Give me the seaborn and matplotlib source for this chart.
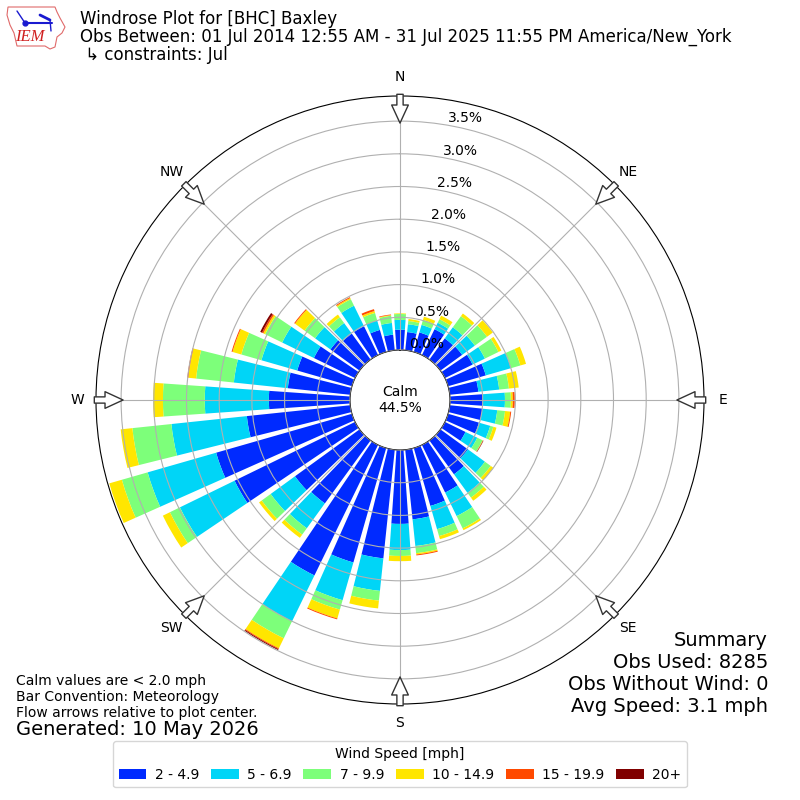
import matplotlib
matplotlib.use('Agg')
import matplotlib.pyplot as plt
import numpy as np
import pandas as pd
import seaborn as sns
from matplotlib.patches import Polygon

directions = [0, 10, 20, 30, 40, 50, 60, 70, 80, 90, 100, 110,
              120, 130, 140, 150, 160, 170, 180, 190, 200, 210, 220, 230,
              240, 250, 260, 270, 280, 290, 300, 310, 320, 330, 340, 350]

speed_2_5 = [.31, .28, .31, .44, .40, .41, .47, .60, .44, .50, .50, .49,
             .35, .52, .64, .81, .92, 1.07, 1.13, 1.67, 1.82, 2.22, 1.19, 1.22,
             2.05, 2.16, 1.59, 1.24, .96, .87, .70, .55, .49, .49, .35, .24]
speed_5_7 = [.15, .12, .12, .11, .21, .24, .21, .40, .32, .34, .23, .18,
             .20, .32, .35, .40, .37, .41, .40, .50, .60, .78, .47, .46,
             .93, 1.09, 1.16, .98, .83, .57, .54, .29, .20, .35, .15, .18]
speed_7_10 = [.09, .05, .08, .06, .21, .23, .23, .15, .15, .09, .12, .05,
              .09, .11, .09, .21, .11, .11, .09, .15, .15, .29, .12, .17,
              .17, .41, .60, .64, .58, .32, .29, .20, .11, .11, .12, .11]
speed_10_15 = [.01, .03, .05, .06, .05, .11, .05, .09, .15, .03, .08, .05,
               .005, .05, .06, .03, .05, .02, .08, .12, .14, .17, .06, .05,
               .12, .20, .18, .15, .12, .14, .03, .18, .05, .02, .03, .01]
speed_15_20 = [0, 0, 0, 0, 0, 0, 0, 0, 0, .03, .015, 0,
               .005, 0, 0, 0, 0, .015, 0, 0, .015, .015, 0, 0,
               0, 0, 0, 0, .015, .015, .023, .015, 0, .015, .03, .01]
speed_20_up = [0, 0, 0, 0, 0, 0, 0, 0, 0, 0, 0, 0,
               .006, 0, 0, 0, 0, 0, 0, 0, 0, .015, 0, 0,
               0, 0, 0, 0, 0, 0, .03, 0, 0, 0, 0, 0]

bins = [speed_2_5, speed_5_7, speed_7_10, speed_10_15, speed_15_20, speed_20_up]
bin_labels = ['2 - 4.9', '5 - 6.9', '7 - 9.9', '10 - 14.9', '15 - 19.9', '20+']
bin_colors = ['#002aff', '#00d5f7', '#7dff7a', '#ffe600', '#ff4a00', '#800000']

rings = [0, 0.5, 1.0, 1.5, 2.0, 2.5, 3.0, 3.5]
compass_angles = [0, 45, 90, 135, 180, 225, 270, 315]
compass_labels = ['N', 'NE', 'E', 'SE', 'S', 'SW', 'W', 'NW']

sns.set_style('white', {'axes.grid': True, 'grid.color': '#b0b0b0', 'axes.edgecolor': 'black',
                        'text.color': 'black', 'xtick.color': 'black', 'ytick.color': 'black',
                        'axes.labelcolor': 'black', 'font.family': ['DejaVu Sans']})

fig = plt.figure(figsize=(8, 8), dpi=100)
ax = fig.add_axes([0.12, 0.12, 0.76, 0.76], projection='polar')
ax.set_theta_zero_location('N')
ax.set_theta_direction(-1)

theta = np.deg2rad(directions)
bottom = np.zeros(len(directions))
for values, label, color in zip(bins, bin_labels, bin_colors):
    df = pd.DataFrame({'theta': theta, 'pct': values})
    sns.barplot(data=df, x='theta', y='pct', native_scale=True, width=0.8, color=color, saturation=1,
                errorbar=None, bottom=bottom, label=label, legend=False, linewidth=0, ax=ax)
    bottom = bottom + np.array(values)

ax.set_xlabel('')
ax.set_ylabel('')
ax.set_xlim(0, 2 * np.pi)
ax.set_rorigin(-0.765)
ax.set_ylim(0, 3.884)
ax.set_axisbelow(False)
ax.set_thetagrids(compass_angles, compass_labels)
ax.tick_params(axis='x', pad=3, labelsize=10)
ax.set_rticks(rings)
ax.set_yticklabels(['%.1f%%' % r for r in rings], fontsize=10)
ax.set_rlabel_position(10)

for angle in compass_angles:
    ax.annotate('', xy=(np.deg2rad(angle), 3.47), xytext=(np.deg2rad(angle), 3.91),
                arrowprops=dict(facecolor='white', edgecolor='#333333', width=4.5, headwidth=12,
                                headlength=13, shrink=0, lw=1),
                annotation_clip=False, zorder=6)

ax.text(0.5, 0.5, 'Calm\n44.5%', transform=ax.transAxes, ha='center', va='center', fontsize=10)

handles, labels = ax.get_legend_handles_labels()
fig.legend(handles, labels, loc='lower center', bbox_to_anchor=(0.5, 0.007), ncol=6,
           title='Wind Speed [mph]', fontsize=10, title_fontsize=10, columnspacing=0.85,
           handlelength=2, handletextpad=0.6)

fig.text(0.1, 0.954, 'Windrose Plot for [BHC] Baxley\n'
         'Obs Between: 01 Jul 2014 12:55 AM - 31 Jul 2025 11:55 PM America/New_York\n'
         ' \u21b3 constraints: Jul', fontsize=12, va='center', linespacing=0.97)
fig.text(0.02, 0.129, 'Calm values are < 2.0 mph\nBar Convention: Meteorology\n'
         'Flow arrows relative to plot center.', fontsize=10, va='center')
fig.text(0.02, 0.0885, 'Generated: 10 May 2026', fontsize=14, va='center')
fig.text(0.96, 0.1575, 'Summary\nObs Used: 8285\nObs Without Wind: 0\nAvg Speed: 3.1 mph',
         fontsize=14, ha='right', va='center')

# IEM logo, pixel coordinates
logo = fig.add_axes([0, 1 - 52 / 800, 70 / 800, 52 / 800])
logo.set_xlim(0, 70)
logo.set_ylim(52, 0)
logo.axis('off')
logo.add_patch(Polygon([(8, 7), (55, 7), (57, 12), (60, 18), (65, 27), (62, 33), (57, 37), (55, 47),
                        (50, 49), (45, 46), (17, 46), (14, 33), (10, 25), (7, 15)],
                       closed=True, facecolor='white', edgecolor='#e06a6a', lw=0.8))
logo.plot([25, 52], [23, 23], color='#1a1ad0', lw=1.5)
logo.plot([25], [23], 'o', color='#1a1ad0', ms=3.5)
logo.plot([17, 25], [11, 23], color='#1a1ad0', lw=1)
logo.plot([40, 50], [15, 20], color='#1a1ad0', lw=2)
logo.plot([50, 51], [20, 31], color='#1a1ad0', lw=1)
logo.text(30, 37, 'IEM', color='#d02020', family='Liberation Serif', style='italic',
          fontsize=12, ha='center', va='center')

fig.savefig('out.png', dpi=100)
